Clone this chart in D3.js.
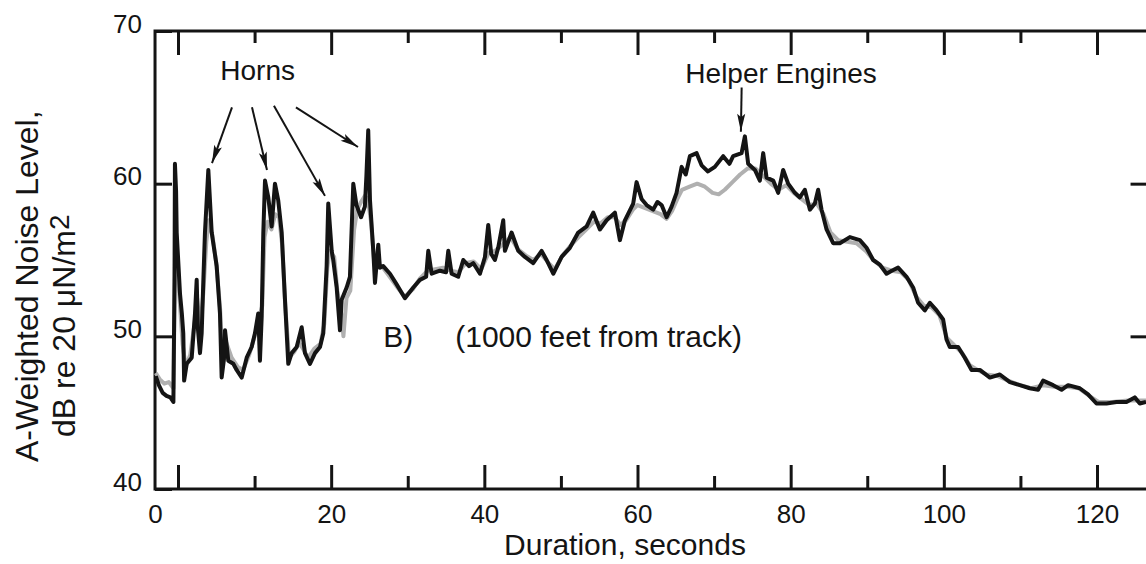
<!DOCTYPE html>
<html>
<head>
<meta charset="utf-8">
<script src="https://cdn.jsdelivr.net/npm/d3@7"></script>
<style>
  body { margin: 0; background: #fff; }
  svg { display: block; font-family: "Liberation Sans", Arial, sans-serif; }
</style>
</head>
<body>
<svg id="chart" width="1146" height="564"></svg>
<script>
// tick values
const majorTicks = [0, 20, 40, 60, 80, 100, 120];
const minorTicks = [10, 30, 50, 70, 90, 110];
const levelTicks = [40, 50, 60, 70];

// dark trace: [seconds, dB]
const traceDark = [
  [-2.9, 47.4], [-2.5, 46.8], [-2.0, 46.3], [-1.5, 46.1], [-1.0, 46.0], [-0.6, 45.7],
  [-0.45, 54], [-0.4, 61.3], [-0.25, 59.5], [-0.17, 56.8], [0.26, 52.8], [0.5, 51.5],
  [0.69, 50.2], [0.8, 47.1], [1.14, 48.2], [1.79, 48.6], [2.22, 51.5], [2.44, 53.7],
  [2.6, 50.5], [2.87, 48.9], [3.09, 50.2], [3.3, 53.5], [3.52, 56.8], [3.96, 60.9],
  [4.4, 56.8], [5.05, 54.6], [5.48, 51.5], [5.7, 47.3], [6.0, 48.5], [6.14, 50.4],
  [6.57, 48.4], [7.22, 48.2], [7.66, 47.8], [8.32, 47.3], [8.97, 48.6], [9.62, 49.3],
  [10.05, 50.2], [10.48, 51.5], [10.7, 48.4], [10.93, 51.3], [11.14, 56.8], [11.36, 60.2],
  [11.79, 59.1], [12.23, 57.2], [12.66, 60.0], [13.09, 58.9], [13.54, 56.8], [13.97, 52.4],
  [14.4, 48.2], [14.84, 48.9], [15.5, 49.3], [16.15, 50.6], [16.58, 48.9], [17.23, 48.2],
  [17.89, 48.9], [18.54, 49.3], [18.97, 50.2], [19.41, 54.6], [19.62, 58.7], [20.07, 55.6],
  [20.27, 55.0], [20.72, 53.2], [21.15, 50.4], [21.37, 52.4], [22.02, 53.2], [22.45, 53.9],
  [22.89, 60.0], [23.3, 58.6], [23.9, 57.8], [24.4, 58.5], [24.6, 60.5], [24.84, 63.5],
  [25.07, 58.9], [25.5, 55.6], [25.72, 53.5], [26.15, 56.0], [26.37, 54.5], [26.8, 54.6],
  [27.68, 54.1], [28.55, 53.4], [29.63, 52.5], [30.72, 53.2], [31.59, 53.7], [32.4, 53.9],
  [32.68, 55.6], [33.12, 54.1], [34.2, 54.3], [35.0, 54.2], [35.29, 55.6], [35.73, 54.1],
  [36.59, 53.9], [37.25, 55.0], [38.0, 54.6], [38.55, 54.8], [39.43, 54.1], [40.08, 55.2],
  [40.51, 57.3], [40.9, 55.4], [41.38, 55.0], [41.81, 55.8], [42.47, 57.6], [42.69, 55.6],
  [43.56, 56.8], [44.43, 55.6], [45.3, 55.2], [46.38, 54.8], [47.48, 55.6], [48.13, 55.0],
  [49.0, 54.1], [50.09, 55.2], [51.17, 55.8], [52.26, 56.8], [53.36, 57.2], [54.22, 58.1],
  [55.09, 57.0], [55.97, 57.6], [57.05, 58.1], [57.7, 56.3], [58.36, 57.6], [59.44, 58.7],
  [59.88, 60.1], [60.53, 59.0], [61.19, 58.6], [62.05, 58.3], [62.6, 58.8], [63.15, 58.6],
  [63.8, 57.8], [64.45, 58.5], [65.1, 59.4], [65.76, 61.1], [66.3, 60.6], [66.84, 61.8],
  [67.72, 62.0], [68.37, 61.2], [69.2, 60.8], [70.1, 61.1], [71.19, 61.8], [72.0, 61.3],
  [72.49, 61.8], [73.59, 62.0], [74.02, 63.1], [74.45, 61.3], [75.33, 60.9], [75.98, 60.2],
  [76.41, 62.0], [76.85, 60.4], [77.72, 60.2], [78.37, 59.4], [79.02, 60.9], [79.67, 60.0],
  [80.55, 59.4], [81.2, 59.1], [81.85, 59.6], [82.51, 58.3], [83.16, 58.7], [83.59, 59.6],
  [84.03, 58.3], [84.69, 57.0], [85.55, 56.1], [86.42, 56.1], [87.73, 56.5], [89.03, 56.3],
  [89.91, 55.8], [90.77, 55.0], [91.64, 54.7], [92.52, 54.1], [93.2, 54.3], [94.03, 54.5],
  [95.13, 53.9], [95.99, 53.2], [96.64, 52.2], [97.52, 51.7], [98.17, 52.2], [99.05, 51.7],
  [99.91, 51.1], [100.35, 49.8], [100.78, 49.3], [101.87, 49.3], [102.74, 48.6], [103.62, 47.8],
  [104.7, 47.8], [106.01, 47.3], [107.31, 47.5], [108.62, 47.0], [109.92, 46.8], [111.23, 46.6],
  [112.31, 46.5], [112.96, 47.1], [114.27, 46.8], [115.37, 46.5], [116.23, 46.8], [117.75, 46.6],
  [118.83, 46.2], [119.93, 45.6], [121.24, 45.6], [122.54, 45.7], [123.85, 45.7], [124.93, 46.0],
  [125.59, 45.6], [126.4, 45.7]
];

// light (second) trace, mostly hidden under the dark one
const traceLight = [
  [-2.9, 47.6], [-2.4, 47.2], [-1.8, 46.9], [-1.2, 47.0], [-0.6, 46.6], [-0.45, 52],
  [-0.35, 57.5], [-0.2, 56.0], [0.2, 52.5], [0.6, 49.5], [1.0, 48.0], [1.6, 48.8],
  [2.2, 51.0], [2.5, 52.5], [2.9, 50.5], [3.3, 52.8], [3.7, 56.2], [4.0, 57.6],
  [4.5, 56.6], [5.0, 54.8], [5.5, 51.8], [5.8, 48.4], [6.3, 49.6], [7.0, 48.6],
  [7.8, 48.0], [8.5, 47.8], [9.3, 48.8], [10.0, 50.0], [10.6, 51.2], [11.0, 52.0],
  [11.3, 56.5], [11.7, 57.5], [12.2, 57.0], [12.7, 58.0], [13.2, 57.8], [13.6, 56.0],
  [14.0, 52.0], [14.5, 48.6], [15.2, 49.0], [15.8, 49.6], [16.3, 49.2], [17.0, 48.6],
  [17.8, 49.2], [18.6, 49.5], [19.1, 50.8], [19.5, 54.5], [19.8, 55.6], [20.4, 55.2],
  [20.8, 53.0], [21.3, 51.5], [21.6, 50.0], [22.0, 52.5], [22.5, 53.0], [23.0, 57.0],
  [23.4, 58.3], [23.9, 58.8], [24.4, 59.2], [24.8, 59.0], [25.2, 57.5], [25.6, 55.0],
  [26.0, 54.5], [26.6, 54.6], [27.5, 54.0], [28.5, 53.3], [29.6, 52.6], [30.7, 53.1],
  [31.6, 53.8], [32.6, 54.3], [33.6, 54.4], [34.6, 54.5], [35.6, 54.3], [36.6, 54.2],
  [37.6, 54.8], [38.6, 54.9], [39.6, 54.4], [40.6, 55.5], [41.4, 55.6], [42.4, 56.0],
  [43.4, 56.5], [44.4, 55.7], [45.4, 55.3], [46.4, 55.0], [47.4, 55.4], [48.4, 54.8],
  [49.2, 54.4], [50.2, 55.3], [51.2, 55.9], [52.3, 56.5], [53.3, 57.0], [54.3, 57.5],
  [55.2, 57.4], [56.1, 57.8], [57.0, 57.8], [57.8, 57.3], [58.5, 57.6], [59.4, 58.3],
  [60.0, 58.6], [61.0, 58.4], [62.0, 58.2], [63.0, 58.0], [63.8, 57.7], [64.5, 58.2],
  [65.2, 59.0], [65.8, 59.6], [66.8, 59.8], [67.8, 60.0], [68.8, 59.8], [69.8, 59.4],
  [70.6, 59.3], [71.4, 59.6], [72.4, 60.1], [73.4, 60.6], [74.4, 61.0], [75.4, 61.0],
  [76.4, 60.5], [77.4, 60.0], [78.4, 59.6], [79.4, 59.9], [80.4, 59.4], [81.4, 59.0],
  [82.4, 58.6], [83.4, 58.7], [84.3, 58.0], [85.2, 56.8], [86.2, 56.3], [87.4, 56.2],
  [88.6, 56.1], [89.8, 55.6], [90.8, 55.0], [92.0, 54.5], [93.2, 54.3], [94.4, 54.2],
  [95.4, 53.7], [96.4, 52.6], [97.4, 52.0], [98.4, 51.9], [99.4, 51.4], [100.4, 49.9],
  [101.4, 49.4], [102.4, 48.9], [103.4, 48.1], [104.4, 47.8], [105.6, 47.5], [107.0, 47.4],
  [108.4, 47.1], [110.0, 46.8], [111.4, 46.6], [113.0, 46.8], [114.4, 46.7], [116.0, 46.7],
  [117.6, 46.6], [119.0, 46.1], [120.2, 45.7], [122.0, 45.7], [124.0, 45.8], [126.4, 45.8]
];

// annotation arrows: [fromSec, fromDb, toSec, toDb]
const hornArrows = [
  [7.05, 65.0, 4.44, 61.35],
  [9.66, 65.0, 11.62, 60.9],
  [12.53, 65.1, 19.19, 59.2],
  [15.4, 65.0, 23.5, 62.4]
];
const engineArrows = [[73.6, 66.3, 73.5, 63.4]];

const svg = d3.select("#chart");
const ink = "#141414";

const x = d3.scaleLinear().domain([0, 120]).range([178, 1097]);
const y = d3.scaleLinear().domain([40, 70]).range([489, 31]);
const xLeft = x(-3), xRight = x(126.6);

svg.append("rect").attr("width", 1146).attr("height", 564).attr("fill", "#fff");

// arrowhead
svg.append("defs").append("marker")
  .attr("id", "head")
  .attr("viewBox", "0 -5 20 10")
  .attr("refX", 20).attr("refY", 0)
  .attr("markerWidth", 20).attr("markerHeight", 9)
  .attr("markerUnits", "userSpaceOnUse")
  .attr("orient", "auto")
  .append("path")
  .attr("d", "M0,-4.5L20,0L0,4.5L4,0Z")
  .attr("fill", ink);

function styleAxis(g, size) {
  g.attr("color", ink)
    .attr("font-family", "Liberation Sans, Arial, sans-serif")
    .attr("font-size", size);
  g.select(".domain").remove();
  g.selectAll(".tick line").attr("stroke-width", 3);
}

// bottom axis
svg.append("g")
  .attr("transform", `translate(0,${y(40)})`)
  .call(d3.axisBottom(x).tickValues(majorTicks).tickSize(-24).tickPadding(16))
  .call(g => styleAxis(g, 26))
  .call(g => g.selectAll(".tick text").filter(d => d === 0).attr("dx", -23));
svg.append("g")
  .attr("transform", `translate(0,${y(40)})`)
  .call(d3.axisBottom(x).tickValues(minorTicks).tickSize(-13).tickFormat(""))
  .call(g => styleAxis(g, 26));

// top axis
svg.append("g")
  .attr("transform", `translate(0,${y(70)})`)
  .call(d3.axisTop(x).tickValues(majorTicks).tickSize(-24).tickFormat(""))
  .call(g => styleAxis(g, 26));
svg.append("g")
  .attr("transform", `translate(0,${y(70)})`)
  .call(d3.axisTop(x).tickValues(minorTicks).tickSize(-12).tickFormat(""))
  .call(g => styleAxis(g, 26));

// left and right axes
svg.append("g")
  .attr("transform", `translate(${xLeft},0)`)
  .call(d3.axisLeft(y).tickValues(levelTicks).tickSize(-17).tickPadding(13))
  .call(g => styleAxis(g, 26))
  .call(g => g.selectAll(".tick text").attr("dy", "0.05em"));
svg.append("g")
  .attr("transform", `translate(${xRight},0)`)
  .call(d3.axisRight(y).tickValues([50, 60]).tickSize(-17).tickFormat(""))
  .call(g => styleAxis(g, 26));

// frame
svg.append("rect")
  .attr("x", xLeft).attr("y", y(70))
  .attr("width", xRight - xLeft).attr("height", y(40) - y(70))
  .attr("fill", "none").attr("stroke", ink).attr("stroke-width", 3);

const line = d3.line().x(d => x(d[0])).y(d => y(d[1]));

svg.append("path")
  .datum(traceLight)
  .attr("d", line)
  .attr("fill", "none")
  .attr("stroke", "#b0b0b0")
  .attr("stroke-width", 4)
  .attr("stroke-linejoin", "round");

svg.append("path")
  .datum(traceDark)
  .attr("d", line)
  .attr("fill", "none")
  .attr("stroke", ink)
  .attr("stroke-width", 4)
  .attr("stroke-linejoin", "round");

// annotations
svg.append("g")
  .selectAll("line")
  .data(hornArrows.concat(engineArrows))
  .join("line")
  .attr("x1", d => x(d[0])).attr("y1", d => y(d[1]))
  .attr("x2", d => x(d[2])).attr("y2", d => y(d[3]))
  .attr("stroke", ink).attr("stroke-width", 2)
  .attr("marker-end", "url(#head)");

const notes = svg.append("g").attr("fill", ink);
notes.append("text").attr("x", x(10.4)).attr("y", y(66.8))
  .attr("text-anchor", "middle").attr("font-size", 28).text("Horns");
notes.append("text").attr("x", x(91.25)).attr("y", y(66.6))
  .attr("text-anchor", "end").attr("font-size", 28).text("Helper Engines");
notes.append("text").attr("x", x(26.8)).attr("y", y(49.3))
  .attr("font-size", 30).text("B)");
notes.append("text").attr("x", x(36.2)).attr("y", y(49.3))
  .attr("font-size", 30).text("(1000 feet from track)");

// axis titles
svg.append("text")
  .attr("x", 625).attr("y", 555)
  .attr("text-anchor", "middle").attr("font-size", 30).attr("fill", ink)
  .text("Duration, seconds");

svg.append("text")
  .attr("transform", "translate(38,462) rotate(-90)")
  .attr("font-size", 32).attr("fill", ink)
  .text("A-Weighted Noise Level,");

const t2 = svg.append("text")
  .attr("transform", "translate(75,437) rotate(-90)")
  .attr("font-size", 32).attr("fill", ink);
t2.append("tspan").text("dB re 20 \u03BCN/m");
t2.append("tspan").attr("dy", -6).attr("font-size", 28).text("2");
</script>
</body>
</html>
